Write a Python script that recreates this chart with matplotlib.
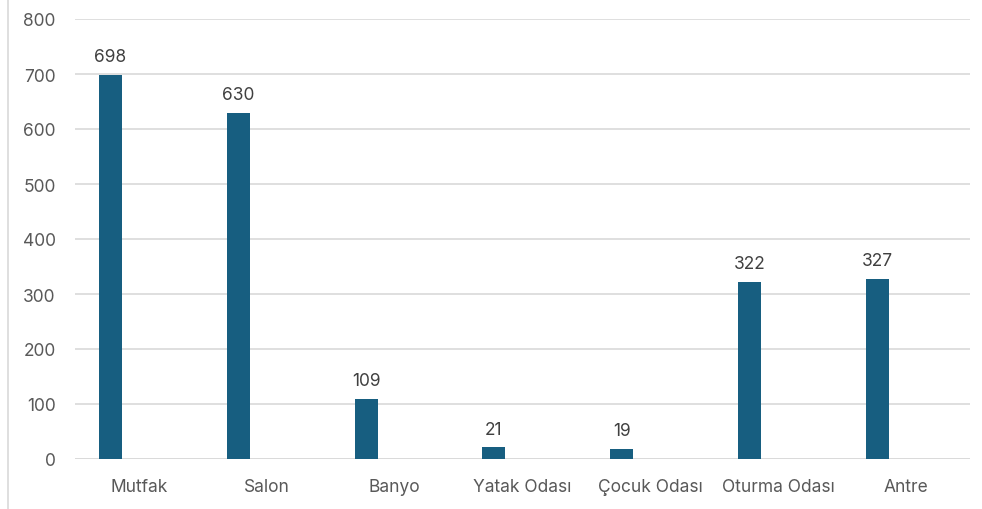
import matplotlib; matplotlib.use('Agg')
import matplotlib.pyplot as plt
from matplotlib.lines import Line2D
import numpy as np

categories = ['Mutfak', 'Salon', 'Banyo', 'Yatak Odası', 'Çocuk Odası', 'Oturma Odası', 'Antre']
values = [698, 630, 109, 21, 19, 322, 327]
yticks = [0, 100, 200, 300, 400, 500, 600, 700, 800]

plt.rcParams['font.family'] = ['Inter', 'DejaVu Sans']
fig = plt.figure(figsize=(9.82, 5.10), dpi=100)
ax = fig.add_axes([75/982, 50/510, 895/982, 440/510])

x = np.arange(len(categories))
bars = ax.bar(x - 0.223, values, width=0.18, color='#175E80', zorder=3)
for xi, v in zip(x, values):
    ax.annotate(str(v), (xi - 0.223, v), xytext=(0, 7), textcoords='offset points',
                ha='center', va='bottom', fontsize=12.5, color='#404040')

ax.set_xlim(-0.5, len(categories) - 0.5)
ax.set_ylim(0, 800)
ax.set_yticks(yticks)
ax.set_xticks(x)
ax.set_xticklabels(categories)
ax.yaxis.grid(True, color='#d9d9d9', lw=1.2, zorder=0)
ax.tick_params(length=0, labelsize=12.5, labelcolor='#595959')
ax.tick_params(axis='x', pad=14)
ax.tick_params(axis='y', pad=14)
for s in ax.spines.values():
    s.set_visible(False)
ax.axhline(0, color='#d9d9d9', lw=1.2, zorder=2)

fig.add_artist(Line2D([8/982, 8/982], [0, 1], color='#d9d9d9', lw=1.2))
fig.savefig('out.png', dpi=100)
